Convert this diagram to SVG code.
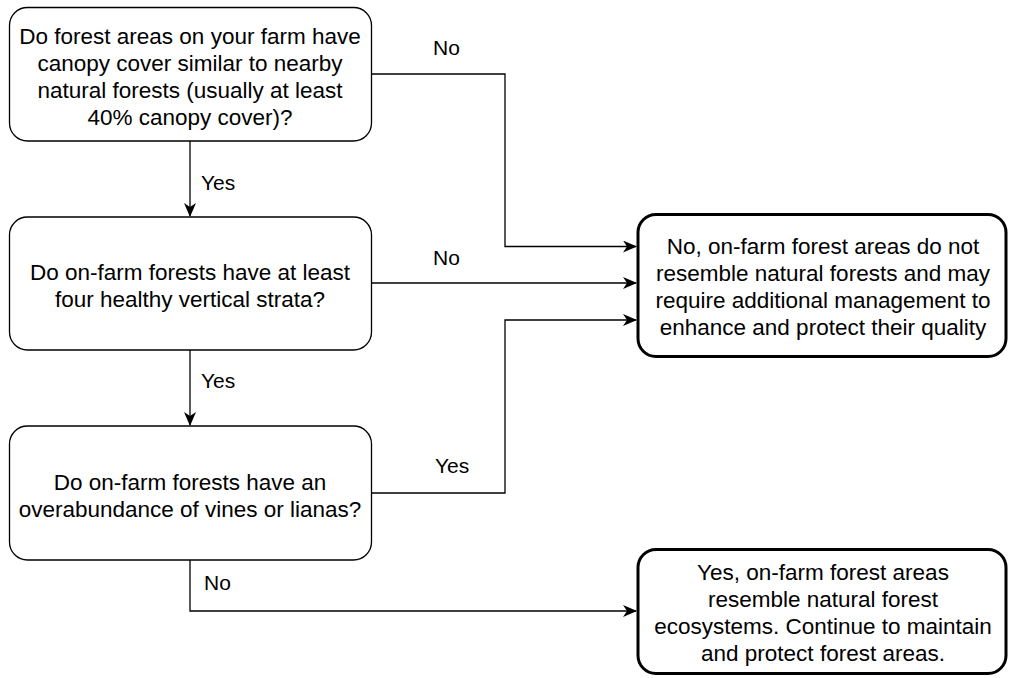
<svg xmlns="http://www.w3.org/2000/svg" width="1009" height="678" viewBox="0 0 1009 678">
<style>
text{font-family:"Liberation Sans",Arial,sans-serif;font-size:22.5px;fill:#000;text-anchor:middle}
.q{fill:#fff;stroke:#000;stroke-width:1.3}
.a{fill:#fff;stroke:#000;stroke-width:3}
.c{fill:none;stroke:#000;stroke-width:1.3}
text.lbl{text-anchor:start;font-size:21px}
</style>
<defs>
<marker id="ah" viewBox="0 0 14 12" refX="13" refY="6" markerWidth="14" markerHeight="12" markerUnits="userSpaceOnUse" orient="auto">
<path d="M0,0 L14,6 L0,12 L4,6 Z" fill="#000"/>
</marker>
</defs>
<g id="connectors">
<path class="c" d="M190,141 V216" marker-end="url(#ah)"/>
<path class="c" d="M190,350 V425" marker-end="url(#ah)"/>
<path class="c" d="M372,74 H505 V246.5 H636" marker-end="url(#ah)"/>
<path class="c" d="M372,283 H636" marker-end="url(#ah)"/>
<path class="c" d="M372,493 H505 V320 H636" marker-end="url(#ah)"/>
<path class="c" d="M190,560 V611 H636" marker-end="url(#ah)"/>
<text class="lbl" x="201" y="190">Yes</text>
<text class="lbl" x="201" y="388">Yes</text>
<text class="lbl" x="433" y="55">No</text>
<text class="lbl" x="433" y="265">No</text>
<text class="lbl" x="435" y="473">Yes</text>
<text class="lbl" x="204" y="590">No</text>
</g>
<g id="q1">
<rect class="q" x="9.5" y="7.5" width="362" height="133.5" rx="18"/>
<text x="190" y="44">Do forest areas on your farm have</text>
<text x="190" y="71">canopy cover similar to nearby</text>
<text x="190" y="98">natural forests (usually at least</text>
<text x="190" y="125">40% canopy cover)?</text>
</g>
<g id="q2">
<rect class="q" x="9.5" y="217" width="362" height="133" rx="18"/>
<text x="190" y="280">Do on-farm forests have at least</text>
<text x="190" y="307">four healthy vertical strata?</text>
</g>
<g id="q3">
<rect class="q" x="9.5" y="426" width="362" height="134" rx="18"/>
<text x="190" y="490">Do on-farm forests have an</text>
<text x="190" y="517">overabundance of vines or lianas?</text>
</g>
<g id="noResult">
<rect class="a" x="638" y="214.5" width="368" height="142" rx="18"/>
<text x="823" y="254">No, on-farm forest areas do not</text>
<text x="823" y="281">resemble natural forests and may</text>
<text x="823" y="308">require additional management to</text>
<text x="823" y="335">enhance and protect their quality</text>
</g>
<g id="yesResult">
<rect class="a" x="638" y="549.5" width="368" height="124" rx="18"/>
<text x="823" y="580">Yes, on-farm forest areas</text>
<text x="823" y="607">resemble natural forest</text>
<text x="823" y="634">ecosystems. Continue to maintain</text>
<text x="823" y="661">and protect forest areas.</text>
</g>
</svg>
